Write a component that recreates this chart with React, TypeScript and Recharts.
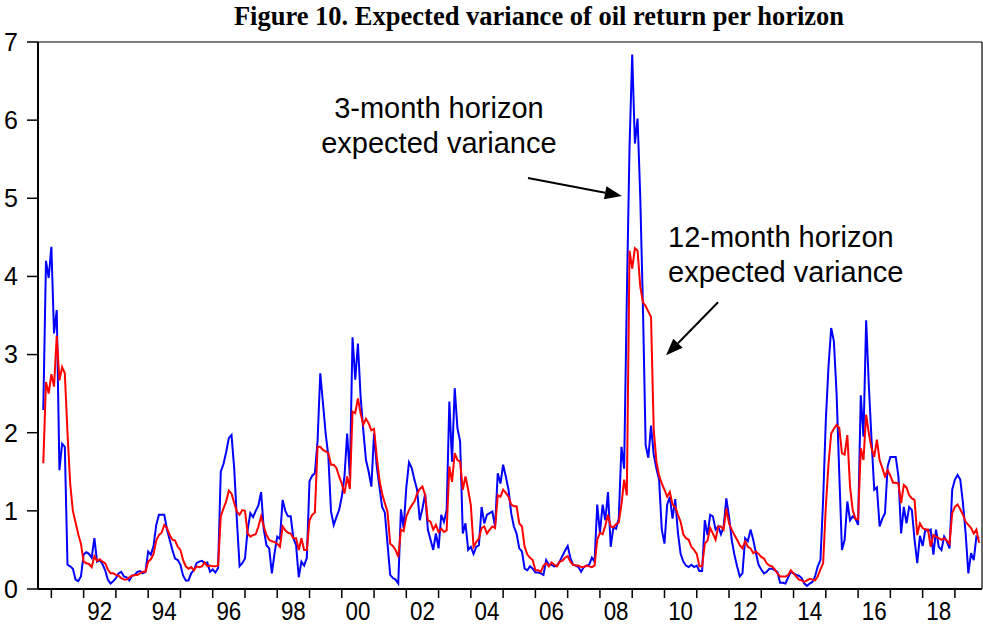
import React from "react";
import { LineChart, Line, XAxis, YAxis, ReferenceLine, ReferenceDot } from "recharts";

// monthly series, first observation Oct 1990, last Oct 2019
const startYear = 1990;
const startMonth = 10;

// 3-month horizon expected variance (blue)
const var3m = [
  2.29, 4.2, 3.98,
  4.38, 3.27, 3.57, 1.52, 1.86, 1.82, 0.31, 0.29, 0.26, 0.12, 0.1, 0.16,
  0.44, 0.47, 0.45, 0.4, 0.65, 0.35, 0.37, 0.32, 0.24, 0.12, 0.07, 0.1,
  0.14, 0.2, 0.22, 0.16, 0.15, 0.11, 0.17, 0.18, 0.22, 0.23, 0.2, 0.22,
  0.48, 0.44, 0.55, 0.82, 0.95, 0.95, 0.95, 0.76, 0.63, 0.5, 0.39, 0.37,
  0.31, 0.17, 0.11, 0.11, 0.2, 0.24, 0.33, 0.35, 0.36, 0.33, 0.34, 0.22,
  0.25, 0.21, 0.27, 1.5, 1.6, 1.75, 1.93, 1.97, 1.54, 0.88, 0.29, 0.33,
  0.39, 0.76, 0.97, 0.92, 1.0, 1.07, 1.24, 0.76, 0.56, 0.52, 0.2, 0.46,
  0.67, 0.64, 1.14, 1.0, 0.93, 0.93, 0.65, 0.56, 0.15, 0.35, 0.3, 0.4,
  1.38, 1.45, 1.48, 1.9, 2.76, 2.38, 1.99, 1.7, 0.99, 0.82, 0.92, 1.01,
  1.18, 1.44, 1.99, 1.44, 3.22, 2.68, 3.14, 2.46, 2.03, 1.65, 1.5, 1.31,
  1.99, 1.57, 1.31, 1.05, 0.98, 0.58, 0.18, 0.14, 0.12, 0.07, 1.02, 0.78,
  1.3, 1.62, 1.55, 1.4, 1.27, 0.88, 1.03, 1.22, 0.76, 0.63, 0.5, 0.71,
  0.52, 0.95, 0.86, 1.01, 2.4, 1.63, 2.57, 2.06, 1.89, 0.71, 0.84, 0.5,
  0.54, 0.45, 0.54, 0.56, 1.05, 0.84, 0.95, 0.97, 0.99, 0.8, 1.48, 1.35,
  1.59, 1.44, 1.27, 0.97, 0.8, 0.71, 0.52, 0.48, 0.26, 0.24, 0.29, 0.26,
  0.21, 0.21, 0.2, 0.18, 0.37, 0.31, 0.31, 0.29, 0.3, 0.35, 0.42, 0.49,
  0.55, 0.4, 0.31, 0.3, 0.28, 0.22, 0.28, 0.3, 0.31, 0.4, 0.35, 1.08,
  0.72, 1.08, 0.88, 1.24, 0.54, 0.79, 0.77, 0.9, 1.82, 1.54, 3.73, 5.65,
  6.84, 5.7, 6.02, 5.01, 3.6, 1.84, 1.68, 2.09, 1.72, 1.54, 1.4, 0.76,
  0.58, 1.08, 1.18, 0.9, 1.15, 0.72, 0.45, 0.35, 0.3, 0.28, 0.31, 0.28,
  0.3, 0.23, 0.23, 0.88, 0.69, 0.95, 0.93, 0.76, 0.8, 0.7, 0.8, 1.16,
  0.93, 0.63, 0.44, 0.29, 0.16, 0.2, 0.65, 0.61, 0.76, 0.63, 0.46, 0.31,
  0.25, 0.2, 0.22, 0.26, 0.26, 0.24, 0.22, 0.08, 0.08, 0.07, 0.15, 0.22,
  0.2, 0.18, 0.17, 0.14, 0.07, 0.04, 0.07, 0.09, 0.16, 0.29, 0.37, 1.14,
  2.16, 2.85, 3.34, 3.17, 2.5, 1.48, 0.5, 0.63, 1.12, 0.88, 0.93, 0.9,
  0.82, 2.48, 1.95, 3.44, 2.6, 1.91, 1.27, 1.3, 0.8, 0.9, 0.97, 1.57,
  1.69, 1.69, 1.69, 1.44, 0.71, 1.05, 0.84, 1.05, 1.01, 0.63, 0.33, 0.68,
  0.55, 0.76, 0.74, 0.76, 0.44, 0.76, 0.54, 0.5, 0.67, 0.61, 0.52, 1.27,
  1.4, 1.46, 1.4, 1.1, 0.71, 0.2, 0.46, 0.37, 0.67, 0.65,
];

// 12-month horizon expected variance (red)
const var12m = [
  1.61, 2.65, 2.5,
  2.75, 2.59, 3.24, 2.67, 2.84, 2.76, 2.0, 1.35, 1.0, 0.85, 0.7, 0.58,
  0.35, 0.33, 0.32, 0.28, 0.42, 0.36, 0.38, 0.35, 0.33, 0.25, 0.2, 0.2,
  0.18, 0.17, 0.14, 0.12, 0.12, 0.15, 0.17, 0.18, 0.18, 0.2, 0.22, 0.22,
  0.35, 0.38, 0.45, 0.62, 0.69, 0.72, 0.82, 0.78, 0.69, 0.63, 0.62, 0.54,
  0.5, 0.37, 0.29, 0.26, 0.28, 0.24, 0.29, 0.28, 0.29, 0.34, 0.29, 0.3,
  0.29, 0.29, 0.3, 0.93, 1.03, 1.12, 1.26, 1.22, 1.1, 0.99, 0.95, 1.01,
  1.0, 0.71, 0.67, 0.69, 0.7, 0.8, 0.93, 0.8, 0.69, 0.63, 0.61, 0.6,
  0.58, 0.54, 0.8, 0.75, 0.72, 0.71, 0.65, 0.65, 0.5, 0.65, 0.5, 0.5,
  0.88, 0.95, 0.98, 1.82, 1.82, 1.78, 1.76, 1.74, 1.59, 1.59, 1.55, 1.44,
  1.35, 1.22, 1.44, 1.28, 2.27, 2.25, 2.44, 2.25, 2.1, 2.18, 2.12, 2.03,
  2.05, 1.69, 1.4, 1.22, 1.1, 0.99, 0.58, 0.55, 0.5, 0.41, 0.76, 0.74,
  0.93, 1.01, 1.07, 1.12, 1.22, 1.28, 1.31, 1.2, 0.88, 0.86, 0.76, 0.82,
  0.73, 0.77, 0.73, 0.75, 1.57, 1.37, 1.74, 1.65, 1.63, 1.27, 1.44, 1.27,
  1.07, 0.54, 0.6, 0.65, 0.78, 0.8, 0.71, 0.76, 0.8, 0.78, 1.2, 1.18,
  1.27, 1.23, 1.18, 1.08, 1.06, 1.06, 0.84, 0.8, 0.54, 0.44, 0.4, 0.37,
  0.24, 0.24, 0.22, 0.3, 0.33, 0.29, 0.34, 0.31, 0.29, 0.35, 0.36, 0.4,
  0.42, 0.35, 0.31, 0.3, 0.3, 0.28, 0.28, 0.3, 0.29, 0.28, 0.3, 0.63,
  0.72, 0.7, 0.81, 0.95, 0.8, 0.79, 0.83, 0.85, 1.08, 1.4, 1.2, 4.33,
  4.1, 4.36, 4.33, 3.87, 3.67, 3.62, 3.55, 3.48, 2.04, 1.63, 1.45, 1.35,
  1.27, 1.18, 1.24, 1.08, 1.05, 0.95, 0.86, 0.7, 0.65, 0.63, 0.54, 0.5,
  0.45, 0.29, 0.29, 0.58, 0.62, 0.78, 0.71, 0.63, 0.8, 0.8, 0.76, 1.03,
  0.84, 0.76, 0.69, 0.63, 0.56, 0.52, 0.61, 0.54, 0.52, 0.46, 0.48, 0.45,
  0.41, 0.39, 0.33, 0.3, 0.29, 0.25, 0.2, 0.16, 0.16, 0.16, 0.18, 0.24,
  0.2, 0.16, 0.12, 0.11, 0.09, 0.11, 0.13, 0.12, 0.11, 0.16, 0.25, 0.33,
  1.05, 1.6, 1.99, 2.05, 2.1, 2.06, 1.74, 1.72, 1.97, 1.31, 1.01, 0.9,
  0.89, 1.8, 1.65, 2.23, 1.99, 1.8, 1.69, 1.91, 1.65, 1.55, 1.44, 1.52,
  1.45, 1.36, 1.36, 1.35, 1.1, 1.33, 1.3, 1.2, 1.16, 1.14, 0.69, 0.84,
  0.78, 0.76, 0.76, 0.54, 0.69, 0.67, 0.65, 0.63, 0.65, 0.62, 0.58, 0.97,
  1.05, 1.08, 1.02, 0.95, 0.86, 0.82, 0.78, 0.71, 0.76, 0.59,
];

// year ticks (boundaries) and the two-digit labels set mid-year
const tickYears = [
  1991, 1992, 1993, 1994, 1995, 1996, 1997, 1998, 1999, 2000, 2001, 2002, 2003, 2004, 2005,
  2006, 2007, 2008, 2009, 2010, 2011, 2012, 2013, 2014, 2015, 2016, 2017, 2018, 2019,
];
const labelYears = [1992, 1994, 1996, 1998, 2000, 2002, 2004, 2006, 2008, 2010, 2012, 2014, 2016, 2018];
const yTicks = [0, 1, 2, 3, 4, 5, 6, 7];

const data = var3m.map((v, i) => ({
  t: startYear + (startMonth - 1 + i) / 12,
  m3: v,
  m12: var12m[i],
}));

const xTicks = [...tickYears, ...labelYears.map((y) => y + 0.5)].sort((a, b) => a - b);
const xDomain = [1990.586, 2019.84];

const sans = "'Liberation Sans', Arial, sans-serif";

const XTick = (props: any) => {
  const { x, y, payload } = props;
  const v = payload.value;
  if (Number.isInteger(v)) {
    return <line x1={x} y1={y} x2={x} y2={y + 9} stroke="#000" strokeWidth={1.5} />;
  }
  const label = String(Math.floor(v) % 100).padStart(2, "0");
  return (
    <text
      transform={`translate(${x},${y + 31}) scale(0.86,1)`}
      textAnchor="middle"
      fontFamily={sans}
      fontSize={26}
      fill="#000"
    >
      {label}
    </text>
  );
};

const Arrow = (p: any) => {
  const { x1, y1, x2, y2 } = p;
  const dx = x2 - x1;
  const dy = y2 - y1;
  const len = Math.hypot(dx, dy) || 1;
  const ux = dx / len;
  const uy = dy / len;
  const hl = 17;
  const hw = 6.5;
  const bx = x2 - ux * hl;
  const by = y2 - uy * hl;
  return (
    <g>
      <line x1={x1} y1={y1} x2={bx} y2={by} stroke="#000" strokeWidth={2} />
      <polygon
        points={`${x2},${y2} ${bx - uy * hw},${by + ux * hw} ${bx + uy * hw},${by - ux * hw}`}
        fill="#000"
      />
    </g>
  );
};

const note = (lines: string[], anchor: string) => (p: any) => (
  <text x={p.cx} y={p.cy} fontFamily={sans} fontSize={29} fill="#000" textAnchor={anchor}>
    <tspan x={p.cx}>{lines[0]}</tspan>
    <tspan x={p.cx} dy={35}>
      {lines[1]}
    </tspan>
  </text>
);

export default function App() {
  return (
    <div style={{ position: "absolute", left: 0, top: 0, width: 983, height: 637, background: "#fff" }}>
      <div
        style={{
          position: "absolute",
          left: 539,
          top: 0,
          transform: "translateX(-50%)",
          whiteSpace: "nowrap",
          fontFamily: "'Liberation Serif', 'Times New Roman', serif",
          fontWeight: "bold",
          fontSize: 26.5,
          lineHeight: "32px",
          color: "#000",
        }}
      >
        Figure 10. Expected variance of oil return per horizon
      </div>
      <LineChart width={983} height={637} data={data} margin={{ top: 42, right: 1, bottom: 0, left: 0 }}>
        <XAxis
          dataKey="t"
          type="number"
          domain={xDomain}
          allowDataOverflow
          ticks={xTicks}
          interval={0}
          tick={<XTick />}
          tickLine={false}
          tickSize={0}
          tickMargin={0}
          height={48}
          axisLine={{ stroke: "#000", strokeWidth: 2 }}
        />
        <YAxis
          domain={[0, 7]}
          ticks={yTicks}
          interval={0}
          width={38}
          tickSize={11}
          tickMargin={9}
          tickLine={{ stroke: "#000", strokeWidth: 1.5 }}
          axisLine={{ stroke: "#000", strokeWidth: 2 }}
          tick={{ fill: "#000", fontSize: 25, fontFamily: sans }}
        />
        <ReferenceLine y={7} stroke="#000" strokeWidth={1.2} ifOverflow="visible" />
        <ReferenceLine x={xDomain[1]} stroke="#000" strokeWidth={1.2} ifOverflow="visible" />
        <Line
          type="linear"
          dataKey="m3"
          stroke="#0000ff"
          strokeWidth={2}
          dot={false}
          isAnimationActive={false}
          name="3-month horizon"
        />
        <Line
          type="linear"
          dataKey="m12"
          stroke="#ff0000"
          strokeWidth={2}
          dot={false}
          isAnimationActive={false}
          name="12-month horizon"
        />
        <ReferenceLine
          segment={[
            { x: 2005.77, y: 5.26 },
            { x: 2008.68, y: 5.03 },
          ]}
          shape={Arrow}
          ifOverflow="visible"
        />
        <ReferenceLine
          segment={[
            { x: 2011.66, y: 3.67 },
            { x: 2010.05, y: 2.99 },
          ]}
          shape={Arrow}
          ifOverflow="visible"
        />
        <ReferenceDot
          x={2003.01}
          y={6.03}
          r={0}
          ifOverflow="visible"
          shape={note(["3-month horizon", "expected variance"], "middle")}
        />
        <ReferenceDot
          x={2010.11}
          y={4.38}
          r={0}
          ifOverflow="visible"
          shape={note(["12-month horizon", "expected variance"], "start")}
        />
      </LineChart>
    </div>
  );
}
